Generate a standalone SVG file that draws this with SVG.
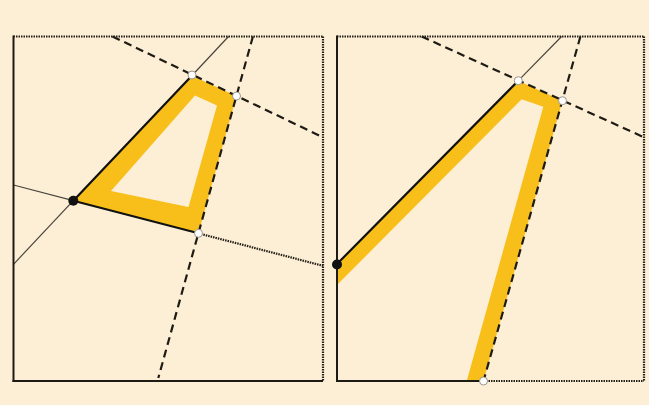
<svg xmlns="http://www.w3.org/2000/svg" width="649" height="405" viewBox="0 0 649 405">
  <style>
    .bg { fill: #FDEFD5; }
    .band { fill: #F8BF1B; fill-rule: evenodd; }
    .solid { stroke: #1E1A14; stroke-width: 2; fill: none; }
    .dot { stroke: #221E18; stroke-width: 2.2; stroke-dasharray: 1.5 1; fill: none; }
    .thin { stroke: #4A453D; stroke-width: 1.2; fill: none; }
    .thick { stroke: #111; stroke-width: 2.2; fill: none; stroke-linecap: round; }
    .dash { stroke: #1E1A14; stroke-width: 2.2; stroke-dasharray: 8 5; fill: none; }
    .wpt { fill: #fff; stroke: #9A968E; stroke-width: 1; }
    .bpt { fill: #111; }
  </style>
  <rect class="bg" x="0" y="0" width="649" height="405"/>

  <g id="panel-left">
    <path class="band" d="M73.3,200.7 L192.5,76 L236.5,96 L198.5,233 Z M111,191 L188.5,207 L217,105.5 L195,95.5 Z"/>
    <g id="left-lines">
      <line class="thin" x1="13.5" y1="264.3" x2="73.3" y2="200.7"/>
      <line class="thin" x1="192.5" y1="75" x2="228.5" y2="36.5"/>
      <line class="thin" x1="13.5" y1="185" x2="73.3" y2="200.7"/>
      <line class="thick" x1="73.3" y1="200.7" x2="192.5" y2="75"/>
      <line class="thick" x1="73.3" y1="200.7" x2="198.5" y2="233.3"/>
      <line class="dot" x1="198.5" y1="233.3" x2="323" y2="265.8"/>
      <line class="dash" x1="112.5" y1="36.5" x2="323" y2="137.3"/>
      <line class="dash" x1="252.9" y1="36.5" x2="158.3" y2="378"/>
    </g>
    <g id="left-frame">
      <line class="dot" x1="13.5" y1="36.5" x2="323" y2="36.5"/>
      <line class="dot" x1="323" y1="36.5" x2="323" y2="381"/>
      <line class="solid" x1="13.5" y1="35.5" x2="13.5" y2="382"/>
      <line class="solid" x1="12.5" y1="381" x2="323" y2="381"/>
    </g>
    <circle class="bpt" cx="73.3" cy="200.7" r="5"/>
    <circle class="wpt" cx="192" cy="75" r="4"/>
    <circle class="wpt" cx="236.5" cy="96" r="4"/>
    <circle class="wpt" cx="198.5" cy="233.3" r="4"/>
  </g>

  <g id="panel-right">
    <path class="band" d="M337,264 L518.3,80.7 L562.5,100.7 L483.5,381 L466.7,381 L543.3,106.7 L521.7,99.3 L337,285 Z"/>
    <g id="right-lines">
      <line class="thick" x1="337" y1="264" x2="518.3" y2="80.7"/>
      <line class="thin" x1="518.3" y1="80.7" x2="561.6" y2="36.5"/>
      <line class="dash" x1="421.6" y1="36.5" x2="644" y2="137.3"/>
      <line class="dash" x1="580.4" y1="36.5" x2="483.5" y2="381"/>
    </g>
    <g id="right-frame">
      <line class="dot" x1="337" y1="36.5" x2="644" y2="36.5"/>
      <line class="dot" x1="644" y1="36.5" x2="644" y2="381"/>
      <line class="dot" x1="483.5" y1="381" x2="644" y2="381"/>
      <line class="solid" x1="337" y1="35.5" x2="337" y2="382"/>
      <line class="solid" x1="336" y1="381" x2="483.5" y2="381"/>
    </g>
    <circle class="bpt" cx="337" cy="264.5" r="5"/>
    <circle class="wpt" cx="518.3" cy="80.7" r="4"/>
    <circle class="wpt" cx="562.5" cy="100.7" r="4"/>
    <circle class="wpt" cx="483.5" cy="381" r="4"/>
  </g>
</svg>
